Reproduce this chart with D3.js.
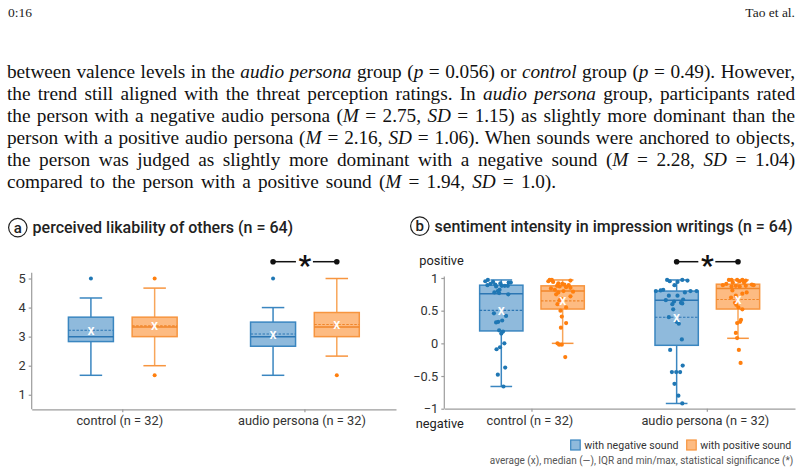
<!DOCTYPE html>
<html><head><meta charset="utf-8">
<script src="https://cdn.jsdelivr.net/npm/d3@7"></script>
<style>
html,body{margin:0;padding:0;background:#fff;width:803px;height:473px;overflow:hidden;}
#page{position:relative;width:803px;height:473px;}
.hdr{position:absolute;top:6px;font-family:'Liberation Serif',serif;font-size:13.5px;line-height:13px;color:#222;z-index:2;}
.para{position:absolute;left:7px;width:788px;top:60.5px;font-family:'Liberation Serif',serif;font-size:19.3px;line-height:22px;letter-spacing:-0.05px;color:#111;z-index:2;}
.para div{white-space:nowrap;text-align:justify;text-align-last:justify;}
.para div.last{width:549px;}
svg{position:absolute;left:0;top:0;z-index:1;}
</style></head>
<body><div id="page">
<div class="hdr" style="left:8px">0:16</div>
<div class="hdr" style="right:8px">Tao et al.</div>
<div class="para">
<div>between valence levels in the <i>audio persona</i> group (<i>p</i> = 0.056) or <i>control</i> group (<i>p</i> = 0.49). However,</div>
<div>the trend still aligned with the threat perception ratings. In <i>audio persona</i> group, participants rated</div>
<div>the person with a negative audio persona (<i>M</i> = 2.75, <i>SD</i> = 1.15) as slightly more dominant than the</div>
<div>person with a positive audio persona (<i>M</i> = 2.16, <i>SD</i> = 1.06). When sounds were anchored to objects,</div>
<div>the person was judged as slightly more dominant with a negative sound (<i>M</i> = 2.28, <i>SD</i> = 1.04)</div>
<div class="last">compared to the person with a positive sound (<i>M</i> = 1.94, <i>SD</i> = 1.0).</div>
</div>
<svg id="chart" width="803" height="473"></svg>
</div>
<script>
// ---------------- data ----------------
const groups = ["control (n = 32)", "audio persona (n = 32)"];
const conditions = ["with negative sound", "with positive sound"];

// chart (a): perceived likability, stats [min, q1, median, q3, max, mean] per group
const likeTicks = [1, 2, 3, 4, 5];
const likeNeg = [[1.67, 2.83, 3.0, 3.67, 4.33, 3.22], [1.67, 2.67, 3.0, 3.5, 4.0, 3.09]];
const likePos = [[2.0, 3.0, 3.33, 3.67, 4.67, 3.37], [2.33, 3.0, 3.33, 3.83, 5.0, 3.42]];
const likeNegOut = [[5], [5]];
const likePosOut = [[1.67, 5], [1.67]];

// chart (b): sentiment intensity, stats [min, q1, median, q3, max, mean] per group
const sentTicks = [1, 0.5, 0, -0.5, -1];
const sentNeg = [[-0.66, 0.19, 0.76, 0.89, 0.97, 0.505], [-0.92, -0.03, 0.66, 0.80, 0.97, 0.40]];
const sentPos = [[0.0, 0.525, 0.80, 0.88, 0.97, 0.65], [0.077, 0.525, 0.84, 0.905, 0.97, 0.67]];

// individual ratings
const sentNegControl = [0.97, 0.95, 0.94, 0.93, 0.92, 0.91, 0.90, 0.93, 0.89, 0.88, 0.88, 0.88, 0.87,
  0.82, 0.80, 0.78, 0.77, 0.75, 0.46, 0.42, 0.35, 0.33, 0.32, 0.20, 0.18, 0.15, 0.00, -0.06, -0.09, -0.37, -0.48, -0.66];
const sentPosControl = [0.97, 0.97, 0.96, 0.95, 0.94, 0.92, 0.91, 0.90,
  0.89, 0.88, 0.87, 0.86, 0.85, 0.84, 0.82, 0.80, 0.79, 0.78, 0.75, 0.72, 0.68, 0.66, 0.60, 0.55,
  0.50, 0.41, 0.31, 0.24, 0.00, -0.02, -0.02, -0.21];
const sentNegAudio = [0.97, 0.95, 0.94, 0.97, 0.96, 0.89, 0.82, 0.81,
  0.80, 0.80, 0.80, 0.78, 0.73, 0.73, 0.67, 0.66,
  0.64, 0.62, 0.61, 0.60, 0.52, 0.40, 0.33, 0.30,
  0.06, -0.10, -0.34, -0.44, -0.44, -0.44, -0.62, -0.80, -0.92];
const sentPosAudio = [0.97, 0.97, 0.97, 0.97, 0.96, 0.95, 0.93, 0.93,
  0.91, 0.90, 0.89, 0.89, 0.88, 0.88, 0.87, 0.87,
  0.81, 0.78, 0.76, 0.73, 0.70, 0.62, 0.59, 0.55,
  0.52, 0.36, 0.33, 0.31, 0.16, 0.08, -0.10, -0.30];
// horizontal spread of the dots (fraction of box width)
const jitNegControl = [-0.31, -0.37, -0.19, 0.22, -0.02, -0.25, -0.14, 0.17, -0.32, 0.01, 0.08, 0.15, -0.12,
  -0.04, -0.08, -0.16, -0.05, 0.16, -0.17, 0.11, 0.02, -0.07, -0.12, -0.05, 0.04, 0.0, 0.07, -0.03, -0.11, 0.09, -0.08, 0.05];
const jitPosControl = [-0.30, -0.25, 0.18, -0.33, -0.22, -0.10, -0.01, 0.04,
  0.14, -0.13, -0.07, 0.08, 0.18, -0.27, -0.18, 0.02, 0.24, -0.10, -0.15, 0.18, -0.03, -0.07, -0.12, 0.08,
  -0.05, -0.02, 0.08, -0.04, -0.12, -0.08, -0.02, 0.06];
const jitNegAudio = [-0.22, -0.16, 0.02, 0.13, 0.25, -0.05, -0.31, -0.37,
  0.32, 0.46, -0.48, 0.19, -0.18, 0.02, 0.15, -0.25,
  -0.06, 0.10, 0.13, -0.10, -0.08, -0.18, 0.0, 0.05,
  0.12, -0.15, 0.14, -0.11, -0.01, 0.08, -0.05, 0.04, 0.13];
const jitPosAudio = [-0.21, -0.15, -0.02, 0.10, 0.18, 0.04, -0.12, 0.14,
  -0.27, 0.32, -0.35, 0.36, -0.05, 0.18, -0.15, 0.04,
  -0.13, 0.20, 0.10, -0.05, -0.16, -0.07, -0.04, 0.01,
  0.10, 0.07, 0.05, -0.02, -0.05, -0.02, 0.02, 0.06];

// ---------------- styles ----------------
const COL = {
  neg: {fill: "#8fbadc", stroke: "#3a86c0", median: "#2c76b3", whisker: "#3a86c0", dot: "#1f77b4"},
  pos: {fill: "#fdbb82", stroke: "#f7953f", median: "#f0862a", whisker: "#f8a65a", dot: "#ff7f0e"}
};
const FONT = "Roboto, 'Noto Sans', sans-serif";
const svg = d3.select("#chart");

function boxChart(cfg) {
  const x = d3.scaleBand().domain(groups).range([cfg.x0, cfg.x1]);
  const sub = d3.scaleBand().domain(conditions).range([0, x.step()]).paddingInner(0.294).paddingOuter(0.576);
  const y = d3.scaleLinear().domain(cfg.domain).range([cfg.yBottom, cfg.yTop]);
  const g = svg.append("g").style("font-family", FONT);

  // axes
  const ya = g.append("g").attr("transform", `translate(${cfg.x0},0)`)
    .call(d3.axisLeft(y).tickValues(cfg.ticks).tickSize(3).tickSizeOuter(0).tickPadding(3).tickFormat(cfg.fmt));
  ya.select(".domain").attr("d", `M0,${cfg.axisTop}V${cfg.yBottom}`);
  const xa = g.append("g").attr("transform", `translate(0,${cfg.yBottom})`)
    .call(d3.axisBottom(x).tickSize(3).tickSizeOuter(0).tickPadding(4));
  [ya, xa].forEach(a => {
    a.selectAll(".domain, line").attr("stroke", "#9c9c9c").attr("stroke-width", 1.2);
    a.selectAll("text").attr("fill", "#333").style("font-size", "12.8px").style("font-family", FONT);
  });
  xa.selectAll("text").attr("dx", cfg.labelDx);

  const series = [
    {key: conditions[0], c: COL.neg, stats: cfg.neg, out: cfg.negOut, pts: cfg.negPts, jit: cfg.negJit},
    {key: conditions[1], c: COL.pos, stats: cfg.pos, out: cfg.posOut, pts: cfg.posPts, jit: cfg.posJit}
  ];
  const w = sub.bandwidth();
  groups.forEach((grp, gi) => {
    series.forEach(s => {
      const [mn, q1, md, q3, mx, mean] = s.stats[gi];
      const cx = x(grp) + sub(s.key) + w / 2;
      const bg = g.append("g");
      // whiskers
      bg.append("line").attr("x1", cx).attr("x2", cx).attr("y1", y(mx)).attr("y2", y(q3))
        .attr("stroke", s.c.whisker).attr("stroke-width", 1.5);
      bg.append("line").attr("x1", cx).attr("x2", cx).attr("y1", y(q1)).attr("y2", y(mn))
        .attr("stroke", s.c.whisker).attr("stroke-width", 1.5);
      [mx, mn].forEach(v => bg.append("line").attr("x1", cx - w / 4).attr("x2", cx + w / 4)
        .attr("y1", y(v)).attr("y2", y(v)).attr("stroke", s.c.stroke).attr("stroke-width", 1.5));
      // box
      bg.append("rect").attr("x", cx - w / 2).attr("y", y(q3)).attr("width", w).attr("height", y(q1) - y(q3))
        .attr("fill", s.c.fill).attr("stroke", s.c.stroke).attr("stroke-width", 1.5);
      bg.append("line").attr("x1", cx - w / 2).attr("x2", cx + w / 2).attr("y1", y(md)).attr("y2", y(md))
        .attr("stroke", s.c.median).attr("stroke-width", 1.5);
      bg.append("line").attr("x1", cx - w / 2).attr("x2", cx + w / 2).attr("y1", y(mean)).attr("y2", y(mean))
        .attr("stroke", s.c.median).attr("stroke-width", 1.1).attr("stroke-dasharray", "2.5,1.5");
      // outliers
      if (s.out) s.out[gi].forEach(v => bg.append("circle").attr("cx", cx).attr("cy", y(v)).attr("r", 2).attr("fill", s.c.dot));
      // individual dots
      if (s.pts) s.pts[gi].forEach((v, k) => bg.append("circle").attr("cx", cx + s.jit[gi][k] * w).attr("cy", y(v))
        .attr("r", 2.1).attr("fill", s.c.dot));
      // mean marker
      bg.append("text").attr("x", cx).attr("y", y(mean)).attr("dy", "0.32em").attr("text-anchor", "middle")
        .attr("fill", "#fff").style("font-size", "14px").style("font-weight", "500").text("x");
    });
  });

  // significance bracket
  const sg = cfg.sigGroup;
  const cN = x(sg) + sub(conditions[0]) + w / 2, cP = x(sg) + sub(conditions[1]) + w / 2, cm = (cN + cP) / 2;
  const sy = cfg.sigY;
  const br = g.append("g");
  br.append("line").attr("x1", cN).attr("x2", cm - 9).attr("y1", sy).attr("y2", sy).attr("stroke", "#111").attr("stroke-width", 1.5);
  br.append("line").attr("x1", cm + 8).attr("x2", cP).attr("y1", sy).attr("y2", sy).attr("stroke", "#111").attr("stroke-width", 1.5);
  [cN, cP].forEach(c => br.append("circle").attr("cx", c).attr("cy", sy).attr("r", 2.8).attr("fill", "#111"));
  br.append("text").attr("x", cm).attr("y", sy + 13.5).attr("text-anchor", "middle").attr("fill", "#111")
    .style("font-size", "28px").style("font-weight", "700").style("font-family", FONT).text("*");

  // title
  const t = g.append("g");
  t.append("circle").attr("cx", cfg.titleX - 14.8).attr("cy", cfg.titleY - 5.4).attr("r", 9.2)
    .attr("fill", "none").attr("stroke", "#222").attr("stroke-width", 1.2);
  t.append("text").attr("x", cfg.titleX - 14.8).attr("y", cfg.titleY - 0.4).attr("text-anchor", "middle")
    .attr("fill", "#222").style("font-size", "15px").style("font-weight", "500").text(cfg.letter);
  t.append("text").attr("x", cfg.titleX).attr("y", cfg.titleY).attr("fill", "#222")
    .style("font-size", "16px").style("font-weight", "500").text(cfg.title);
  return g;
}

boxChart({
  x0: 31.7, x1: 396, yBottom: 409.3, yTop: 272.7, axisTop: 272.7, domain: [0.5, 5.2],
  ticks: likeTicks, fmt: d3.format("d"), labelDx: -3,
  neg: likeNeg, pos: likePos, negOut: likeNegOut, posOut: likePosOut,
  sigGroup: groups[1], sigY: 261.7,
  titleX: 32.6, titleY: 233, letter: "a", title: "perceived likability of others (n = 64)"
});

const gb = boxChart({
  x0: 444.3, x1: 795, yBottom: 408.7, yTop: 278, axisTop: 276.5, domain: [-1, 1],
  ticks: sentTicks, fmt: d => d3.format("")(d).replace("-", "\u2212"), labelDx: -2,
  neg: sentNeg, pos: sentPos,
  negPts: [sentNegControl, sentNegAudio], negJit: [jitNegControl, jitNegAudio],
  posPts: [sentPosControl, sentPosAudio], posJit: [jitPosControl, jitPosAudio],
  sigGroup: groups[1], sigY: 261.7,
  titleX: 434.6, titleY: 231.5, letter: "b", title: "sentiment intensity in impression writings (n = 64)"
});
gb.append("text").attr("x", 419.3).attr("y", 264.5).attr("fill", "#222").style("font-size", "12.8px").text("positive");
gb.append("text").attr("x", 415.7).attr("y", 427.5).attr("fill", "#222").style("font-size", "12.8px").text("negative");

// legend
const lg = svg.append("g").style("font-family", FONT);
const legendX = [570.7, 686.7];
conditions.forEach((c, i) => {
  const col = i === 0 ? COL.neg : COL.pos;
  lg.append("rect").attr("x", legendX[i]).attr("y", 440).attr("width", 9.5).attr("height", 10)
    .attr("fill", col.fill).attr("stroke", col.stroke).attr("stroke-width", 1.2);
  lg.append("text").attr("x", legendX[i] + 13.6).attr("y", 449).attr("fill", "#333").style("font-size", "10.6px").text(c);
});
lg.append("text").attr("x", 793.3).attr("y", 464).attr("text-anchor", "end").attr("fill", "#555")
  .style("font-size", "10px").text("average (x), median (\u2014), IQR and min/max, statistical significance (*)");
</script>
</body></html>
